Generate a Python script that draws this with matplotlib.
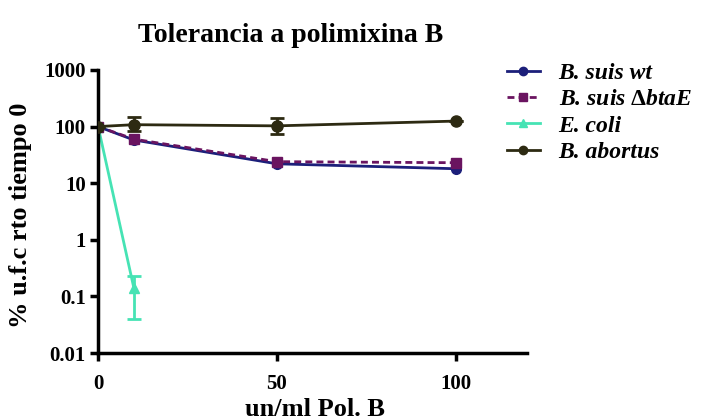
import matplotlib
matplotlib.use("Agg")
import matplotlib.pyplot as plt
from matplotlib.lines import Line2D

plt.rcParams['font.family'] = ['Liberation Serif', 'DejaVu Serif']
plt.rcParams['font.weight'] = 'bold'
plt.rcParams['mathtext.fontset'] = 'custom'
plt.rcParams['mathtext.rm'] = 'Liberation Serif:bold'
plt.rcParams['mathtext.it'] = 'Liberation Serif:italic:bold'

# data
conc = [0, 10, 50, 100]
suis_wt = [100, 58, 22, 18]
suis_bta = [100, 60, 24, 23]
coli_x = [0, 10]
coli = [100, 0.14]
coli_lo = [0, 0.10]
coli_hi = [0, 0.09]
abortus = [100, 108, 103, 125]
abortus_lo = [0, 25, 28, 0]
abortus_hi = [0, 40, 37, 0]

yticks = [0.01, 0.1, 1, 10, 100, 1000]
ylabels = ['0.01', '0.1', '1', '10', '100', '1000']
labels = ['B. suis wt', r'B. suis $\Delta$btaE', 'E. coli', 'B. abortus']

fig = plt.figure(figsize=(7.01, 4.19), dpi=100)
ax = fig.add_axes([0.14, 0.1575, 0.612, 0.6755])

c_wt = '#1c1f7a'
c_bta = '#6a1460'
c_coli = '#46e3b4'
c_ab = '#2d2a12'
dash = (0, (2.5, 1.5))

ax.plot(conc, suis_wt, color=c_wt, marker='o', ms=7, lw=2, zorder=3)
ax.plot(conc, suis_bta, color=c_bta, marker='s', ms=7, lw=2, ls=dash, zorder=3)
ax.errorbar(coli_x, coli, yerr=[coli_lo, coli_hi], color=c_coli, marker='^', ms=7,
            lw=2, capsize=5, capthick=2, zorder=2)
ax.errorbar(conc, abortus, yerr=[abortus_lo, abortus_hi], color=c_ab, marker='o', ms=8,
            lw=2, capsize=5, capthick=2, zorder=4)

ax.set_yscale('log')
ax.set_ylim(0.01, 1000)
ax.set_xlim(0, 120)
ax.set_yticks(yticks)
ax.set_yticklabels(ylabels)
ax.minorticks_off()
ax.set_xticks([0, 50, 100])
ax.tick_params(axis='both', direction='out', width=2.5, length=6, labelsize=15)
ax.tick_params(axis='x', pad=9)
ax.tick_params(axis='y', pad=3)
for s in ['top', 'right']:
    ax.spines[s].set_visible(False)
for s in ['left', 'bottom']:
    ax.spines[s].set_linewidth(2.5)
for t in ax.get_xticklabels() + ax.get_yticklabels():
    t.set_fontweight('bold')

fig.text(291 / 701, 1 - 36 / 419, 'Tolerancia a polimixina B', fontsize=20,
         fontweight='bold', ha='center', va='center')
fig.text(315 / 701, 1 - 409 / 419, 'un/ml Pol. B', fontsize=19,
         fontweight='bold', ha='center', va='center')
fig.text(21 / 701, 1 - 215 / 419, '% u.f.c rto tiempo 0', fontsize=19,
         fontweight='bold', ha='center', va='center', rotation=90)

handles = [
    Line2D([0], [0], color=c_wt, marker='o', ms=6, lw=2),
    Line2D([0], [0], color=c_bta, marker='s', ms=6, lw=2, ls=dash),
    Line2D([0], [0], color=c_coli, marker='^', ms=6, lw=2),
    Line2D([0], [0], color=c_ab, marker='o', ms=6, lw=2),
]
fig.legend(handles, labels, loc='upper left', bbox_to_anchor=(0.716, 0.862),
           frameon=False, handlelength=1.4, labelspacing=0.2, handletextpad=0.8,
           borderaxespad=0, borderpad=0.2,
           prop={'family': ['Liberation Serif'], 'style': 'italic', 'weight': 'bold', 'size': 17})

fig.savefig('out.png', dpi=100)
